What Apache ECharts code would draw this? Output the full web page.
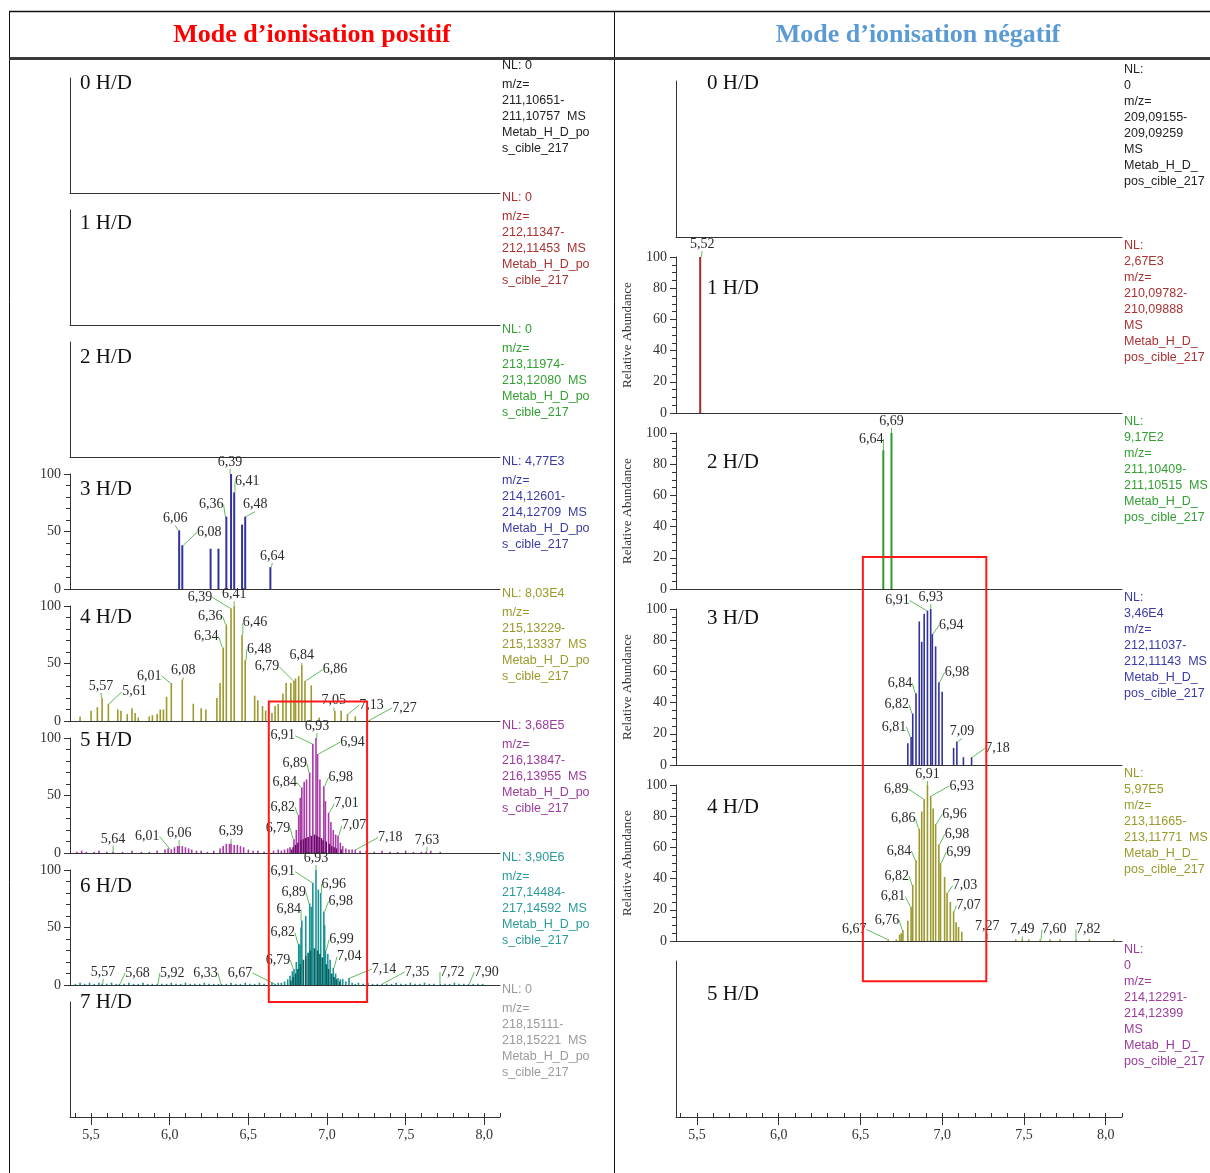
<!DOCTYPE html>
<html>
<head>
<meta charset="utf-8">
<script src="https://cdn.jsdelivr.net/npm/echarts/dist/echarts.min.js"></script>
<style>
  html, body { margin: 0; padding: 0; background: #ffffff; }
  #chart { width: 1210px; height: 1173px; }
</style>
</head>
<body>
<div id="chart"></div>
<script>
// ---------- Retention-time axis ticks (minutes) ----------
const rtMajorTicks = [5.5, 6.0, 6.5, 7.0, 7.5, 8.0];
const rtMinorTicks = [5.4, 5.5, 5.6, 5.7, 5.8, 5.9, 6.0, 6.1, 6.2, 6.3, 6.4, 6.5, 6.6, 6.7, 6.8, 6.9,
                      7.0, 7.1, 7.2, 7.3, 7.4, 7.5, 7.6, 7.7, 7.8, 7.9, 8.0, 8.1];

// ---------- Positive ionisation: extracted ion chromatograms [RT, relative abundance %] ----------
const pos0Peaks = [];
const pos1Peaks = [];
const pos2Peaks = [];
const pos3Peaks = [[6.06, 51], [6.08, 38], [6.26, 35], [6.31, 35], [6.36, 63], [6.39, 100], [6.41, 84],
                   [6.46, 56], [6.48, 63], [6.64, 19]];
const pos4Peaks = [[5.43, 4], [5.50, 9], [5.54, 12], [5.57, 20], [5.61, 15], [5.67, 10], [5.69, 9], [5.73, 6],
                   [5.76, 11], [5.78, 7], [5.80, 3], [5.87, 4], [5.89, 5], [5.92, 6], [5.94, 10], [5.96, 10],
                   [5.98, 21], [6.01, 33], [6.08, 36], [6.15, 15], [6.20, 11], [6.23, 10], [6.30, 20], [6.32, 33],
                   [6.34, 64], [6.36, 84], [6.39, 98], [6.41, 100], [6.46, 75], [6.48, 53], [6.54, 22], [6.56, 18],
                   [6.59, 13], [6.61, 9], [6.65, 7], [6.67, 13], [6.69, 15], [6.72, 24], [6.74, 33], [6.77, 33],
                   [6.79, 35], [6.80, 37], [6.82, 39], [6.84, 49], [6.86, 35], [6.90, 31], [6.95, 3], [7.05, 9],
                   [7.09, 9], [7.13, 6], [7.18, 4], [7.27, 1]];
const pos5Peaks = [[5.41, 1], [5.44, 2], [5.47, 1], [5.52, 1], [5.55, 2], [5.60, 1], [5.64, 1], [5.70, 1],
                   [5.76, 2], [5.82, 1], [5.87, 1], [5.92, 2], [5.97, 3], [5.99, 4], [6.01, 3], [6.03, 5],
                   [6.05, 6], [6.06, 6], [6.08, 6], [6.10, 5], [6.12, 4], [6.14, 3], [6.17, 2], [6.20, 2],
                   [6.24, 1], [6.28, 2], [6.32, 4], [6.34, 6], [6.36, 8], [6.38, 8], [6.39, 8], [6.41, 7],
                   [6.43, 7], [6.45, 6], [6.47, 5], [6.50, 3], [6.53, 2], [6.56, 2], [6.60, 1], [6.63, 2],
                   [6.66, 2], [6.69, 3], [6.71, 2], [6.73, 3], [6.75, 4], [6.765, 5], [6.79, 12], [6.805, 20],
                   [6.82, 33], [6.83, 48], [6.84, 57], [6.855, 62], [6.87, 64], [6.89, 70], [6.91, 95], [6.93, 100],
                   [6.94, 86], [6.955, 64], [6.98, 58], [6.99, 45], [7.01, 35], [7.025, 27], [7.04, 20], [7.055, 16],
                   [7.07, 15], [7.085, 9], [7.10, 6], [7.12, 4], [7.14, 3], [7.16, 3], [7.18, 3], [7.21, 2],
                   [7.25, 2], [7.30, 1], [7.35, 2], [7.40, 1], [7.45, 1], [7.50, 2], [7.55, 1], [7.60, 1],
                   [7.63, 1], [7.66, 2], [7.72, 1]];
const pos5Core = [[6.775, 3], [6.785, 5], [6.80, 7], [6.815, 9], [6.835, 11], [6.85, 12], [6.865, 13], [6.88, 14],
                  [6.90, 15], [6.92, 16], [6.935, 15], [6.95, 14], [6.965, 13], [6.975, 11], [6.995, 10], [7.015, 8],
                  [7.03, 6], [7.045, 5], [7.06, 4], [7.09, 3]];
const pos6Peaks = [[5.40, 1], [5.43, 2], [5.46, 1], [5.49, 2], [5.52, 1], [5.55, 2], [5.57, 1], [5.60, 1],
                   [5.63, 2], [5.66, 1], [5.68, 1], [5.71, 1], [5.74, 2], [5.77, 1], [5.80, 1], [5.83, 2],
                   [5.86, 1], [5.89, 1], [5.92, 1], [5.95, 1], [5.98, 1], [6.01, 2], [6.04, 1], [6.07, 1],
                   [6.10, 2], [6.13, 1], [6.16, 1], [6.19, 1], [6.22, 2], [6.25, 1], [6.28, 1], [6.31, 1],
                   [6.33, 1], [6.36, 1], [6.39, 2], [6.42, 1], [6.45, 1], [6.48, 2], [6.51, 1], [6.54, 1],
                   [6.57, 2], [6.60, 1], [6.63, 1], [6.65, 2], [6.67, 1], [6.69, 2], [6.71, 2], [6.73, 3],
                   [6.75, 5], [6.765, 8], [6.78, 12], [6.79, 14], [6.805, 20], [6.82, 36], [6.828, 35], [6.835, 50],
                   [6.84, 56], [6.865, 60], [6.89, 71], [6.90, 68], [6.91, 89], [6.93, 100], [6.945, 83], [6.96, 80],
                   [6.98, 64], [6.985, 52], [6.99, 30], [7.005, 27], [7.02, 22], [7.04, 15], [7.055, 10], [7.07, 6],
                   [7.085, 5], [7.10, 5], [7.12, 3], [7.14, 6], [7.16, 2], [7.18, 1], [7.20, 2], [7.23, 1],
                   [7.26, 2], [7.29, 1], [7.32, 1], [7.35, 1], [7.38, 1], [7.41, 1], [7.44, 2], [7.47, 1],
                   [7.50, 1], [7.53, 2], [7.56, 1], [7.59, 1], [7.62, 2], [7.65, 1], [7.68, 1], [7.72, 1],
                   [7.75, 1], [7.78, 1], [7.81, 2], [7.84, 1], [7.87, 1], [7.90, 1], [7.93, 1], [7.96, 1], [7.99, 1]];
const pos6Core = [[6.77, 4], [6.785, 7], [6.80, 10], [6.815, 14], [6.83, 18], [6.85, 22], [6.865, 25], [6.88, 28],
                  [6.895, 30], [6.92, 32], [6.94, 30], [6.955, 27], [6.97, 24], [6.995, 18], [7.01, 14], [7.03, 10],
                  [7.045, 7], [7.06, 5], [7.08, 3]];
const pos7Peaks = [];

// ---------- Negative ionisation ----------
const neg0Peaks = [];
const neg1Peaks = [[5.52, 100]];
const neg2Peaks = [[6.64, 89], [6.69, 100]];
const neg3Peaks = [[6.79, 14], [6.81, 18], [6.82, 33], [6.84, 46], [6.86, 92], [6.875, 79], [6.89, 97], [6.91, 99],
                   [6.93, 100], [6.94, 84], [6.96, 76], [6.98, 53], [7.00, 47], [7.07, 11], [7.09, 15], [7.13, 5],
                   [7.18, 5]];
const neg4Peaks = [[6.67, 1], [6.72, 1], [6.74, 4], [6.75, 5], [6.76, 7], [6.79, 13], [6.81, 22], [6.82, 36],
                   [6.84, 52], [6.86, 72], [6.875, 83], [6.89, 91], [6.91, 100], [6.93, 93], [6.945, 85], [6.96, 75],
                   [6.98, 62], [6.99, 50], [7.015, 41], [7.03, 31], [7.05, 25], [7.07, 19], [7.085, 12], [7.10, 9],
                   [7.12, 6], [7.27, 1], [7.45, 1], [7.49, 1], [7.53, 1], [7.60, 1], [7.66, 1], [7.72, 1],
                   [7.82, 1], [7.90, 1], [8.05, 1]];
const neg5Peaks = [];

// ---------- Trace headers (normalisation level, mass window, file) ----------
const posInfo = [
  ['NL: 0', 'm/z=', '211,10651-', '211,10757  MS', 'Metab_H_D_po', 's_cible_217'],
  ['NL: 0', 'm/z=', '212,11347-', '212,11453  MS', 'Metab_H_D_po', 's_cible_217'],
  ['NL: 0', 'm/z=', '213,11974-', '213,12080  MS', 'Metab_H_D_po', 's_cible_217'],
  ['NL: 4,77E3', 'm/z=', '214,12601-', '214,12709  MS', 'Metab_H_D_po', 's_cible_217'],
  ['NL: 8,03E4', 'm/z=', '215,13229-', '215,13337  MS', 'Metab_H_D_po', 's_cible_217'],
  ['NL: 3,68E5', 'm/z=', '216,13847-', '216,13955  MS', 'Metab_H_D_po', 's_cible_217'],
  ['NL: 3,90E6', 'm/z=', '217,14484-', '217,14592  MS', 'Metab_H_D_po', 's_cible_217'],
  ['NL: 0', 'm/z=', '218,15111-', '218,15221  MS', 'Metab_H_D_po', 's_cible_217']
];
const negInfo = [
  ['NL:', '0', 'm/z=', '209,09155-', '209,09259', 'MS', 'Metab_H_D_', 'pos_cible_217'],
  ['NL:', '2,67E3', 'm/z=', '210,09782-', '210,09888', 'MS', 'Metab_H_D_', 'pos_cible_217'],
  ['NL:', '9,17E2', 'm/z=', '211,10409-', '211,10515  MS', 'Metab_H_D_', 'pos_cible_217'],
  ['NL:', '3,46E4', 'm/z=', '212,11037-', '212,11143  MS', 'Metab_H_D_', 'pos_cible_217'],
  ['NL:', '5,97E5', 'm/z=', '213,11665-', '213,11771  MS', 'Metab_H_D_', 'pos_cible_217'],
  ['NL:', '0', 'm/z=', '214,12291-', '214,12399', 'MS', 'Metab_H_D_', 'pos_cible_217']
];
const posTags = ['0 H/D', '1 H/D', '2 H/D', '3 H/D', '4 H/D', '5 H/D', '6 H/D', '7 H/D'];
const negTags = ['0 H/D', '1 H/D', '2 H/D', '3 H/D', '4 H/D', '5 H/D'];

// ---------- Styling ----------
const SERIF = 'Liberation Serif, Times New Roman, serif';
const SANS = 'Liberation Sans, Arial, sans-serif';
const traceColors = ['#222222', '#a52a2a', '#2e9b2e', '#33339e', '#9c9a2c', '#a93aa8', '#1b9494', '#9a9a9a'];
const coreColors = { 5: '#6a0a6a', 6: '#0a5f5f' };
const infoColors = ['#222222', '#a93232', '#32a032', '#3a3aa6', '#9a9a2a', '#9b3b9b', '#2a9a9a', '#9a9a9a'];

// Where each annotated peak's retention-time label sits, relative to the peak apex [dx, dy] (px)
const labelPlacement = {
  pos3: { '6.06': [-4, -5], '6.08': [27, -6], '6.36': [-15, -5], '6.39': [-1, -5], '6.41': [13, -4],
          '6.48': [10, -5], '6.64': [2, -4] },
  pos4: { '5.57': [-1, -5], '5.61': [26, -5], '6.01': [-22, 0], '6.08': [1, -2], '6.34': [-17, -4],
          '6.36': [-16, -1], '6.39': [-31, -4], '6.41': [0, -5], '6.46': [13, -5], '6.48': [14, -4],
          '6.79': [-27, -7], '6.84': [0, -2], '6.86': [30, -4], '7.05': [-1, -3], '7.13': [24, -2], '7.27': [35, -5] },
  pos5: { '5.64': [0, -6], '6.01': [-24, -6], '6.06': [0, -6], '6.39': [0, -5], '6.79': [-16, -4],
          '6.82': [-16, -1], '6.84': [-17, 2], '6.89': [-15, -2], '6.91': [-30, -1], '6.93': [1, -5],
          '6.94': [35, -5], '6.98': [17, -2], '7.01': [18, -2], '7.07': [16, -3], '7.18': [35, -5], '7.63': [1, -5] },
  pos6: { '5.57': [1, -5], '5.68': [18, -4], '5.92': [15, -4], '6.33': [-16, -4], '6.67': [-35, -4],
          '6.79': [-16, -2], '6.82': [-16, -4], '6.84': [-13, -4], '6.89': [-16, -4], '6.91': [-30, -4],
          '6.93': [0, -5], '6.96': [13, -2], '6.98': [17, -3], '6.99': [16, -4], '7.04': [16, -4],
          '7.14': [35, -2], '7.35': [35, -5], '7.72': [12, -5], '7.9': [18, -5] },
  neg1: { '5.52': [2, -6] },
  neg2: { '6.64': [-12, -4], '6.69': [0, -5] },
  neg3: { '6.81': [-17, -3], '6.82': [-16, -2], '6.84': [-16, -3], '6.91': [-30, -3], '6.93': [0, -5],
          '6.94': [19, -2], '6.98': [18, -3], '7.09': [5, -3], '7.18': [26, -2] },
  neg4: { '6.67': [-34, -3], '6.76': [-16, -3], '6.81': [-18, -3], '6.82': [-16, -2], '6.84': [-17, -2],
          '6.86': [-16, -3], '6.89': [-28, -3], '6.91': [0, -4], '6.93': [31, -3], '6.96': [19, -3],
          '6.98': [18, -3], '6.99': [18, -4], '7.03': [18, 0], '7.07': [15, 1], '7.27': [1, -6],
          '7.49': [0, -3], '7.6': [14, -3], '7.82': [12, -3] }
};

// Two stacks of chromatograms: positive (left) and negative (right) ionisation
const sides = {
  pos: {
    peaks: [pos0Peaks, pos1Peaks, pos2Peaks, pos3Peaks, pos4Peaks, pos5Peaks, pos6Peaks, pos7Peaks],
    cores: { 5: pos5Core, 6: pos6Core },
    info: posInfo, tags: posTags,
    gridLeft: 70, gridWidth: 430, xMin: 5.366, xMax: 8.1,
    base0: 193, step: 132, plotH: 115, yInterval: 50, yMinorSplit: 5, yName: '',
    tagX: 80, tagRise: [110, 102, 100, 100, 104, 113, 99, 115],
    infoX: 502, infoRise: 127, infoGaps: [19, 16]
  },
  neg: {
    peaks: [neg0Peaks, neg1Peaks, neg2Peaks, neg3Peaks, neg4Peaks, neg5Peaks],
    cores: {},
    info: negInfo, tags: negTags,
    gridLeft: 676, gridWidth: 446, xMin: 5.372, xMax: 8.1,
    base0: 237, step: 176, plotH: 156, yInterval: 20, yMinorSplit: 4, yName: 'Relative Abundance',
    tagX: 707, tagRise: [154, 125, 127, 147, 134, 123],
    infoX: 1124, infoRise: 167, infoGaps: [16, 16]
  }
};

// Red frames around the main elution window (data coordinates on given traces)
const highlightBoxes = [
  { side: 'pos', rt: [6.63, 7.255], top: [4, 17], bottom: [7, 100] },
  { side: 'neg', rt: [6.515, 7.27], top: [2, 20.5], bottom: [5, 87] }
];

const grids = [], xAxes = [], yAxes = [], series = [], graphics = [];
const axisRefs = { pos: [], neg: [] };

const rtText = v => v.toFixed(1).replace('.', ',');
const peakText = t => t.toFixed(2).replace('.', ',');

function barSeries(key, peaks, color, xIdx, yIdx, width, withLabels) {
  const place = labelPlacement[key] || {};
  return {
    type: 'bar', xAxisIndex: xIdx, yAxisIndex: yIdx,
    barWidth: width, barGap: '-100%', silent: true,
    itemStyle: { color: color },
    data: peaks.map(p => {
      const item = { value: [p[0], p[1]] };
      if (withLabels && place[String(p[0])]) item.label = { show: true };
      return item;
    }),
    label: {
      show: false, position: 'top', distance: 0,
      fontFamily: SERIF, fontSize: 14, color: '#2a2a2a',
      formatter: p => peakText(p.value[0])
    },
    labelLine: { show: true, lineStyle: { color: '#62bd5e', width: 1 } },
    labelLayout: withLabels ? (params) => {
      const n = place[String(peaks[params.dataIndex][0])];
      return n ? { dx: n[0], dy: n[1] } : {};
    } : undefined
  };
}

Object.keys(sides).forEach(sideKey => {
  const s = sides[sideKey];
  const n = s.peaks.length;
  s.peaks.forEach((peaks, i) => {
    const base = s.base0 + i * s.step;
    const gi = grids.length;
    const isBottom = i === n - 1;
    const hasData = peaks.length > 0;
    grids.push({ left: s.gridLeft, width: s.gridWidth, top: base - s.plotH, height: s.plotH, containLabel: false });

    const xIdx = xAxes.length;
    xAxes.push({
      gridIndex: gi, type: 'value', min: s.xMin, max: s.xMax,
      axisLine: { show: true, onZero: false, lineStyle: { color: '#333', width: 1 } },
      axisTick: { show: isBottom, length: 8, customValues: rtMajorTicks, lineStyle: { color: '#333' } },
      axisLabel: { show: isBottom, customValues: rtMajorTicks, margin: 11, formatter: v => rtText(v),
                   fontFamily: SERIF, fontSize: 14, color: '#333' },
      splitLine: { show: false }
    });
    if (isBottom) {
      xAxes.push({
        gridIndex: gi, type: 'value', min: s.xMin, max: s.xMax,
        axisLine: { show: false },
        axisTick: { show: true, length: 4, customValues: rtMinorTicks, lineStyle: { color: '#333' } },
        axisLabel: { show: false },
        splitLine: { show: false }
      });
    }

    const yIdx = yAxes.length;
    yAxes.push({
      gridIndex: gi, type: 'value', min: 0, max: 100, interval: s.yInterval,
      name: hasData ? s.yName : '', nameLocation: 'middle', nameGap: 42,
      nameTextStyle: { fontFamily: SERIF, fontSize: 13, color: '#333' },
      axisLine: { show: true, lineStyle: { color: '#333', width: 1 } },
      axisTick: { show: hasData, length: 6, lineStyle: { color: '#333' } },
      minorTick: { show: hasData, splitNumber: s.yMinorSplit, length: 4, lineStyle: { color: '#333' } },
      axisLabel: { show: hasData, margin: 9, fontFamily: SERIF, fontSize: 14, color: '#333' },
      splitLine: { show: false }, minorSplitLine: { show: false }
    });
    axisRefs[sideKey].push({ xAxisIndex: xIdx, yAxisIndex: yIdx });

    if (hasData) {
      const key = sideKey + i;
      const dense = peaks.length > 12;
      series.push(barSeries(key, peaks, traceColors[i], xIdx, yIdx, dense ? 1.6 : 2, true));
      if (s.cores[i]) series.push(barSeries(key + 'core', s.cores[i], coreColors[i], xIdx, yIdx, 1.6, false));
    }

    // trace tag
    graphics.push({
      type: 'text', x: s.tagX, y: base - s.tagRise[i], silent: true,
      style: { text: s.tags[i], fontFamily: SERIF, fontSize: 21, fill: '#111', align: 'left', verticalAlign: 'middle' }
    });
    // trace header block
    let y = base - s.infoRise;
    s.info[i].forEach((line, k) => {
      if (k > 0) y += (k === 1 ? s.infoGaps[0] : s.infoGaps[1]);
      graphics.push({
        type: 'text', x: s.infoX, y: y, silent: true,
        style: { text: line, fontFamily: SANS, fontSize: 12.5, fill: infoColors[i], align: 'left', verticalAlign: 'middle' }
      });
    });
  });
});

// Table frame and column titles
graphics.push(
  { type: 'line', silent: true, shape: { x1: 9, y1: 11.5, x2: 1210, y2: 11.5 }, style: { stroke: '#111', lineWidth: 1.5 } },
  { type: 'line', silent: true, shape: { x1: 9.5, y1: 11, x2: 9.5, y2: 1173 }, style: { stroke: '#111', lineWidth: 1 } },
  { type: 'line', silent: true, shape: { x1: 614.5, y1: 11, x2: 614.5, y2: 1173 }, style: { stroke: '#111', lineWidth: 1 } },
  { type: 'rect', silent: true, shape: { x: 9, y: 57, width: 1201, height: 3 }, style: { fill: '#3a3a3a' } },
  { type: 'text', silent: true, x: 312, y: 35,
    style: { text: 'Mode d\u2019ionisation positif', fontFamily: SERIF, fontWeight: 'bold', fontSize: 26,
             fill: '#ff0000', align: 'center', verticalAlign: 'middle' } },
  { type: 'text', silent: true, x: 918, y: 35,
    style: { text: 'Mode d\u2019ionisation n\u00e9gatif', fontFamily: SERIF, fontWeight: 'bold', fontSize: 26,
             fill: '#5b9bd5', align: 'center', verticalAlign: 'middle' } }
);

const chart = echarts.init(document.getElementById('chart'), null, { renderer: 'canvas' });
chart.setOption({
  animation: false,
  backgroundColor: '#ffffff',
  grid: grids, xAxis: xAxes, yAxis: yAxes, series: series
});

// Highlight frames, placed through the trace axes
highlightBoxes.forEach(b => {
  const refs = axisRefs[b.side];
  const tl = chart.convertToPixel(refs[b.top[0]], [b.rt[0], b.top[1]]);
  const br = chart.convertToPixel(refs[b.bottom[0]], [b.rt[1], b.bottom[1]]);
  graphics.push({
    type: 'rect', silent: true, z: 100,
    shape: { x: tl[0], y: tl[1], width: br[0] - tl[0], height: br[1] - tl[1] },
    style: { fill: 'none', stroke: '#ff1a1a', lineWidth: 2 }
  });
});
chart.setOption({ graphic: graphics });
</script>
</body>
</html>
